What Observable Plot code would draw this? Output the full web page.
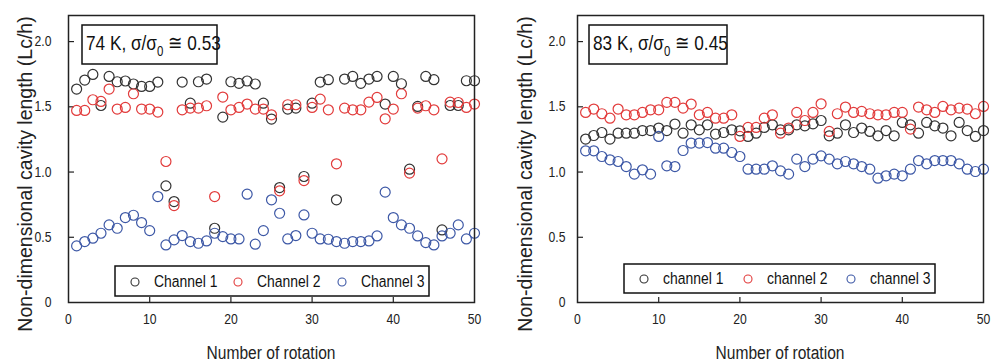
<!DOCTYPE html>
<html>
<head>
<meta charset="utf-8">
<script src="https://cdn.jsdelivr.net/npm/d3@7"></script>
<script src="https://cdn.jsdelivr.net/npm/@observablehq/plot@0.6"></script>
<style>
  html, body { margin: 0; padding: 0; background: #fff; }
  #wrap { display: flex; width: 991px; height: 364px; }
  #wrap svg { display: block; }
</style>
</head>
<body>
<div id="wrap"></div>
<script>
// ---- Data ----
const rotations = d3.range(1, 51);

const seriesNames74K = ["Channel 1", "Channel 2", "Channel 3"];
const seriesNames83K = ["channel 1", "channel 2", "channel 3"];
const seriesColors = ["#333333", "#e23b3b", "#3d58a6"];

const ch1_74K = [1.636,1.705,1.748,1.51,1.733,1.692,1.698,1.675,1.656,1.656,
  1.69,0.894,0.774,1.69,1.528,1.692,1.713,0.569,1.421,1.692,
  1.68,1.698,1.675,1.528,1.406,0.881,1.483,1.49,0.966,1.528,
  1.69,1.708,0.787,1.713,1.733,1.68,1.713,1.733,1.521,1.733,
  1.677,1.022,1.503,1.733,1.708,0.556,1.51,1.51,1.70,1.70];
const ch2_74K = [1.472,1.472,1.554,1.541,1.636,1.483,1.495,1.600,1.483,1.483,
  1.46,1.081,0.743,1.477,1.49,1.49,1.508,0.812,1.575,1.477,
  1.495,1.521,1.483,1.483,1.439,0.856,1.516,1.516,0.935,1.495,
  1.559,1.477,1.063,1.49,1.477,1.477,1.536,1.572,1.408,1.483,
  1.600,0.992,1.49,1.508,1.477,1.101,1.536,1.533,1.495,1.521];
const ch3_74K = [0.434,0.467,0.493,0.531,0.595,0.569,0.651,0.669,0.613,0.551,
  0.812,0.441,0.480,0.513,0.467,0.454,0.472,0.531,0.505,0.487,
  0.487,0.830,0.447,0.551,0.787,0.684,0.487,0.513,0.671,0.531,
  0.487,0.485,0.467,0.454,0.467,0.467,0.472,0.51,0.846,0.651,
  0.595,0.569,0.51,0.459,0.441,0.51,0.531,0.595,0.487,0.531];

const ch1_83K = [1.253,1.28,1.303,1.253,1.298,1.298,1.298,1.318,1.318,1.337,
  1.318,1.368,1.298,1.362,1.324,1.362,1.291,1.303,1.324,1.316,
  1.273,1.298,1.342,1.362,1.324,1.324,1.362,1.354,1.37,1.395,
  1.278,1.298,1.362,1.303,1.337,1.311,1.278,1.318,1.278,1.38,
  1.362,1.298,1.38,1.354,1.337,1.278,1.38,1.318,1.273,1.318];
const ch2_83K = [1.457,1.483,1.447,1.413,1.483,1.439,1.439,1.457,1.477,1.477,
  1.534,1.534,1.49,1.521,1.439,1.457,1.413,1.413,1.439,1.273,
  1.342,1.342,1.413,1.439,1.298,1.337,1.457,1.395,1.457,1.523,
  1.311,1.447,1.498,1.457,1.465,1.447,1.439,1.439,1.457,1.457,
  1.329,1.498,1.477,1.457,1.503,1.477,1.49,1.483,1.447,1.503];
const ch3_83K = [1.163,1.163,1.119,1.094,1.081,1.042,0.984,1.017,0.984,1.273,
  1.048,1.042,1.165,1.222,1.222,1.226,1.183,1.183,1.15,1.119,
  1.022,1.022,1.022,1.048,1.009,0.984,1.099,1.042,1.099,1.124,
  1.099,1.063,1.081,1.063,1.042,1.022,0.953,0.971,0.984,0.971,
  1.022,1.088,1.063,1.088,1.088,1.088,1.063,1.022,1.004,1.022];

const xTicks = [0, 10, 20, 30, 40, 50];
const xInnerTicks = [10, 20, 30, 40];
const yTicks = [0, 0.5, 1.0, 1.5, 2.0];
const xLabel = "Number of rotation";
const yLabel = "Non-dimensional cavity length (Lc/h)";

// ---- Drawing ----
const FONT = '"Liberation Sans", Arial, sans-serif';
const SQ = 0.82; // horizontal squeeze of the reference's lettering

function addText(s, x, y, size, anchor) {
  const g = s.append("g").attr("transform", `translate(${x},${y}) scale(${SQ},1)`);
  return g.append("text").attr("x", 0).attr("y", 0)
    .attr("text-anchor", anchor)
    .style("font-family", FONT).style("font-size", size + "px").attr("fill", "#111");
}

function makePanel(cfg) {
  const H = 364, mt = 15, mb = 62;
  const plotH = H - mt - mb;
  const plotW = cfg.width - cfg.marginLeft - cfg.marginRight;
  const rows = [];
  cfg.series.forEach((vals, i) => {
    vals.forEach((v, j) => rows.push({n: rotations[j], v, s: i}));
  });
  const svg = Plot.plot({
    width: cfg.width, height: H,
    marginTop: mt, marginBottom: mb, marginLeft: cfg.marginLeft, marginRight: cfg.marginRight,
    style: {fontFamily: FONT, fontSize: "14px", color: "#222", background: "#fff", overflow: "visible"},
    x: {domain: [0, 50], label: null},
    y: {domain: [0, 2.2], label: null},
    marks: [
      Plot.axisX({ticks: xTicks, tickSize: 0, tickPadding: 12, fontSize: 14, label: null}),
      Plot.axisY({ticks: yTicks, tickSize: 0, tickPadding: cfg.yPad, fontSize: 14, label: null,
        tickFormat: d => d === 0 ? "0" : d.toFixed(1)}),
      Plot.ruleX(xInnerTicks, {x: d => d, insetTop: plotH - 5, stroke: "#222", strokeWidth: 1.2}),
      Plot.ruleY(yTicks.filter(d => d > 0), {y: d => d, insetRight: plotW - 6, stroke: "#222", strokeWidth: 1.2}),
      Plot.dot(rows, {x: "n", y: "v", r: 5, fill: "none", strokeWidth: 1.2,
        stroke: d => seriesColors[d.s]}),
      Plot.frame({stroke: "#222", strokeWidth: 1.5})
    ]
  });
  const s = d3.select(svg);
  // squeeze tick labels horizontally like the reference
  s.selectAll('g[aria-label="x-axis tick label"] text, g[aria-label="y-axis tick label"] text').each(function() {
    const tr = this.getAttribute("transform");
    if (tr && tr.includes("translate")) this.setAttribute("transform", tr + ` scale(${SQ + 0.05},1)`);
  });
  // axis titles
  s.append("text")
    .attr("transform", `translate(${cfg.yLabelX},174) rotate(-90)`)
    .attr("text-anchor", "middle")
    .style("font-family", FONT).style("font-size", "19.5px").attr("fill", "#222")
    .text(yLabel);
  addText(s, cfg.marginLeft + plotW / 2, 359, 19, "middle").attr("fill", "#222").text(xLabel);
  // annotation box
  const a = cfg.annot;
  s.append("rect").attr("x", a.x).attr("y", 25).attr("width", a.w).attr("height", 39)
    .attr("fill", "#fff").attr("stroke", "#111").attr("stroke-width", 1.5);
  const t = addText(s, a.x + 4, 50, 21, "start");
  t.append("tspan").text(a.temp + ", σ/σ");
  t.append("tspan").attr("dy", 6).style("font-size", "14px").text("0");
  t.append("tspan").attr("dy", -6).text(" ≅ " + a.ratio);
  // legend box
  const L = cfg.legend;
  s.append("rect").attr("x", L.x).attr("y", L.y).attr("width", L.w).attr("height", L.h)
    .attr("fill", "#fff").attr("stroke", "#111").attr("stroke-width", 1.5);
  cfg.names.forEach((name, i) => {
    s.append("circle").attr("cx", L.cx[i]).attr("cy", L.cy).attr("r", 4)
      .attr("fill", "none").attr("stroke", seriesColors[i]).attr("stroke-width", 1.1);
    addText(s, L.tx[i], L.ty, 17, "start").text(name);
  });
  return svg;
}

const wrap = document.getElementById("wrap");
wrap.appendChild(makePanel({
  width: 495, marginLeft: 68, marginRight: 21, yPad: 17, yLabelX: 32,
  series: [ch1_74K, ch2_74K, ch3_74K], names: seriesNames74K,
  annot: {x: 82, w: 135, temp: "74 K", ratio: "0.53"},
  legend: {x: 115, y: 266, w: 314, h: 30, cy: 282, ty: 287,
    cx: [135, 238, 342], tx: [154, 257, 361]}
}));
wrap.appendChild(makePanel({
  width: 496, marginLeft: 82, marginRight: 8, yPad: 12, yLabelX: 37,
  series: [ch1_83K, ch2_83K, ch3_83K], names: seriesNames83K,
  annot: {x: 94, w: 138, temp: "83 K", ratio: "0.45"},
  legend: {x: 129, y: 264, w: 311, h: 29, cy: 279, ty: 284,
    cx: [149, 253, 356], tx: [168, 272, 375]}
}));
</script>
</body>
</html>
